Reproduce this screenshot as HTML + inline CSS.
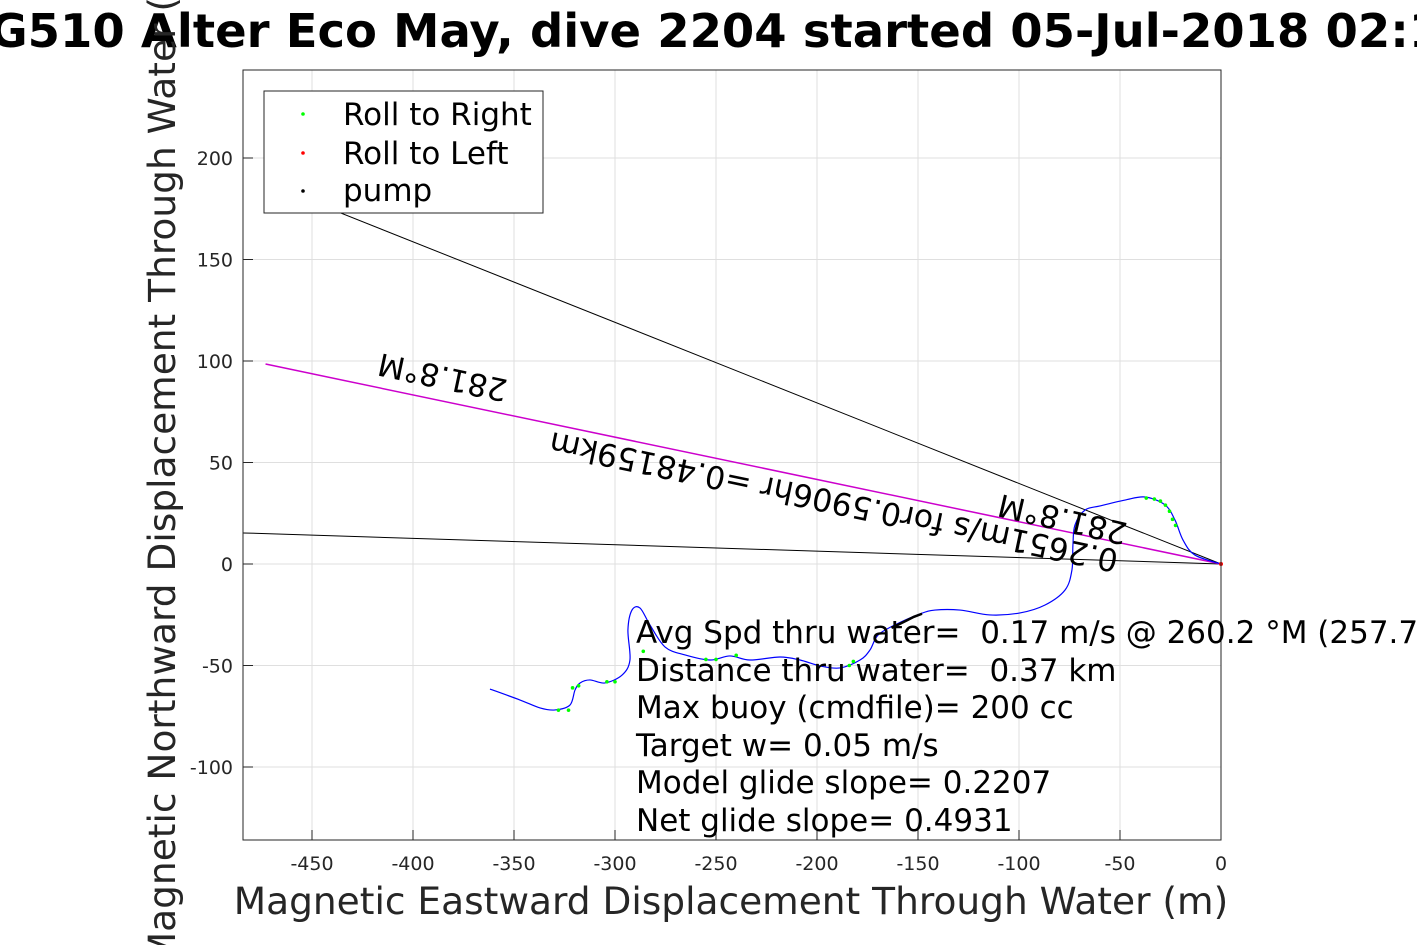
<!DOCTYPE html>
<html><head><meta charset="utf-8"><style>
body{margin:0;background:#fff;width:1417px;height:945px;overflow:hidden}
text{font-family:"DejaVu Sans","Liberation Sans",sans-serif;white-space:pre}
</style></head><body>
<svg id="chart" width="1417" height="945" xmlns="http://www.w3.org/2000/svg">
<g id="grid"></g>
<g id="lines"></g>
<g id="track"></g>
<rect x="243" y="70" width="978" height="770" fill="none" stroke="#262626" stroke-width="1"/>
<g id="ticks"></g>
<text x="-44" y="47" font-size="46.5" font-weight="bold">SG510 Alter Eco May, dive 2204 started 05-Jul-2018 02:12</text>
<text x="731" y="914" font-size="37.5" fill="#262626" text-anchor="middle">Magnetic Eastward Displacement Through Water (m)</text>
<text transform="translate(175,455) rotate(-90)" font-size="37.5" fill="#262626" text-anchor="middle">Magnetic Northward Displacement Through Water (m)</text>
<text transform="translate(443,375) rotate(192)" font-size="31" text-anchor="middle" dominant-baseline="middle">281.8°M</text>
<text transform="translate(1063,517) rotate(193)" font-size="31" text-anchor="middle" dominant-baseline="middle">281.8°M</text>
<text transform="translate(834,500) rotate(191.8)" font-size="31.5" text-anchor="middle" dominant-baseline="middle">0.2651m/s for0.5906hr =0.48159km</text>
<g font-size="31">
<text x="636" y="643">Avg Spd thru water=  0.17 m/s @ 260.2 °M (257.7 °T)</text>
<text x="636" y="681">Distance thru water=  0.37 km</text>
<text x="636" y="718">Max buoy (cmdfile)= 200 cc</text>
<text x="636" y="756">Target w= 0.05 m/s</text>
<text x="636" y="793">Model glide slope= 0.2207</text>
<text x="636" y="831">Net glide slope= 0.4931</text>
</g>
<g>
<rect x="264" y="91" width="279" height="122" fill="#fff" stroke="#262626"/>
<circle cx="303" cy="114" r="1.8" fill="#00ff00"/>
<text x="343" y="125" font-size="31">Roll to Right</text>
<circle cx="303" cy="153" r="1.8" fill="#ff0000"/>
<text x="343" y="164" font-size="31">Roll to Left</text>
<circle cx="303" cy="191" r="1.8" fill="#000"/>
<text x="343" y="201" font-size="31">pump</text>
</g>
</svg>
<script>
const xTicks=[-450,-400,-350,-300,-250,-200,-150,-100,-50,0];
const yTicks=[-100,-50,0,50,100,150,200];
const trackX=[0,-12.9,-18.8,-22.8,-27.7,-37.6,-47.5,-59.9,-67.3,-72.3,-73.3,-73.8,-77.2,-87.1,-99.5,-114.4,-129.2,-141.6,-149.0,-161.4,-169.8,-173.8,-178.7,-188.6,-198.5,-208.4,-218.3,-233.2,-243.1,-253.0,-265.3,-275.2,-282.7,-287.6,-291.6,-293.6,-292.6,-296.5,-305.0,-312.4,-317.3,-319.8,-322.3,-329.7,-337.1,-347.0,-361.9];
const trackY=[0,4.4,11.8,21.7,29.1,33.0,31.5,28.6,26.6,19.2,9.4,-3.0,-12.8,-20.2,-24.1,-25.1,-22.7,-22.7,-24.6,-30.0,-35.0,-42.4,-47.3,-51.2,-50.2,-47.3,-45.8,-47.3,-45.3,-47.3,-44.8,-40.9,-30.0,-21.7,-22.7,-32.5,-47.3,-54.7,-58.6,-57.1,-58.6,-62.1,-69.5,-71.9,-70.9,-67.0,-61.6];
const rightX=[-37,-33,-30,-27.5,-25.5,-24,-22.5,-182,-184,-240,-250,-255,-300,-304,-318,-321,-328,-323,-286];
const rightY=[32.5,32,31,29,26,22,19,-48,-50,-45,-47,-47,-58,-58,-60,-61,-72,-72,-43];
const pumpX=[-148,-152,-156,-160,-163];
const pumpY=[-24.5,-26,-28,-30,-31.5];
const lineEndX=[-470,-484,-473];
const lineEndY=[186.5,15.3,98.5];
const NS='http://www.w3.org/2000/svg';
const sx=v=>1221+v*2.02, sy=v=>564-v*2.03;
function mk(t,a,p){const e=document.createElementNS(NS,t);for(const k in a)e.setAttribute(k,a[k]);p.appendChild(e);return e;}
const grid=document.getElementById('grid'),ticks=document.getElementById('ticks');
xTicks.forEach(v=>{
 const l=mk('line',{x1:sx(v),x2:sx(v),y1:70,y2:840,stroke:'#dfdfdf'},grid);
 
 
 const t1=mk('line',{x1:sx(v),x2:sx(v),y1:840,y2:830,stroke:'#262626'},ticks);
 
 
 const t=mk('text',{x:sx(v),y:870,'font-size':19,fill:'#262626','text-anchor':'middle'},ticks);
 t.textContent=v;
 
 
});
yTicks.forEach(v=>{
 const l=mk('line',{x1:243,x2:1221,y1:sy(v),y2:sy(v),stroke:'#dfdfdf'},grid);
 
 
 const t1=mk('line',{x1:243,x2:253,y1:sy(v),y2:sy(v),stroke:'#262626'},ticks);
 
 
 const t=mk('text',{x:233,y:sy(v)+7,'font-size':19,fill:'#262626','text-anchor':'end'},ticks);
 t.textContent=v;
 
 
});
const lines=document.getElementById('lines');
lineEndX.forEach((v,i)=>{
 const l=mk('line',{x1:sx(0),y1:sy(0),x2:sx(v),y2:sy(lineEndY[i]),stroke:i==2?'#cc00cc':'#000','stroke-width':i==2?1.5:1},lines);
 
 
});
const track=document.getElementById('track');
const P=trackX.map((v,i)=>[sx(v),sy(trackY[i])]);
let d='M'+P[0][0]+','+P[0][1];
for(let i=0;i<P.length-1;i++){
 const p0=P[Math.max(0,i-1)],p1=P[i],p2=P[i+1],p3=P[Math.min(P.length-1,i+2)];
 const c1=[p1[0]+(p2[0]-p0[0])/6,p1[1]+(p2[1]-p0[1])/6];
 const c2=[p2[0]-(p3[0]-p1[0])/6,p2[1]-(p3[1]-p1[1])/6];
 d+=' C'+c1.join(',')+' '+c2.join(',')+' '+p2.join(',');
}
const p=mk('path',{d:d,fill:'none',stroke:'#0000ff','stroke-width':1.2},track);


rightX.forEach((v,i)=>{
 const c=mk('circle',{cx:sx(v),cy:sy(rightY[i]),r:1.8,fill:'#00ff00'},track);
 
 
});
const pl=mk('polyline',{points:pumpX.map((v,i)=>sx(v)+','+sy(pumpY[i])).join(' '),fill:'none',stroke:'#000','stroke-width':2.5},track);


const r=mk('circle',{cx:sx(0),cy:sy(0),r:2,fill:'#ff0000'},track);


</script>
</body></html>
